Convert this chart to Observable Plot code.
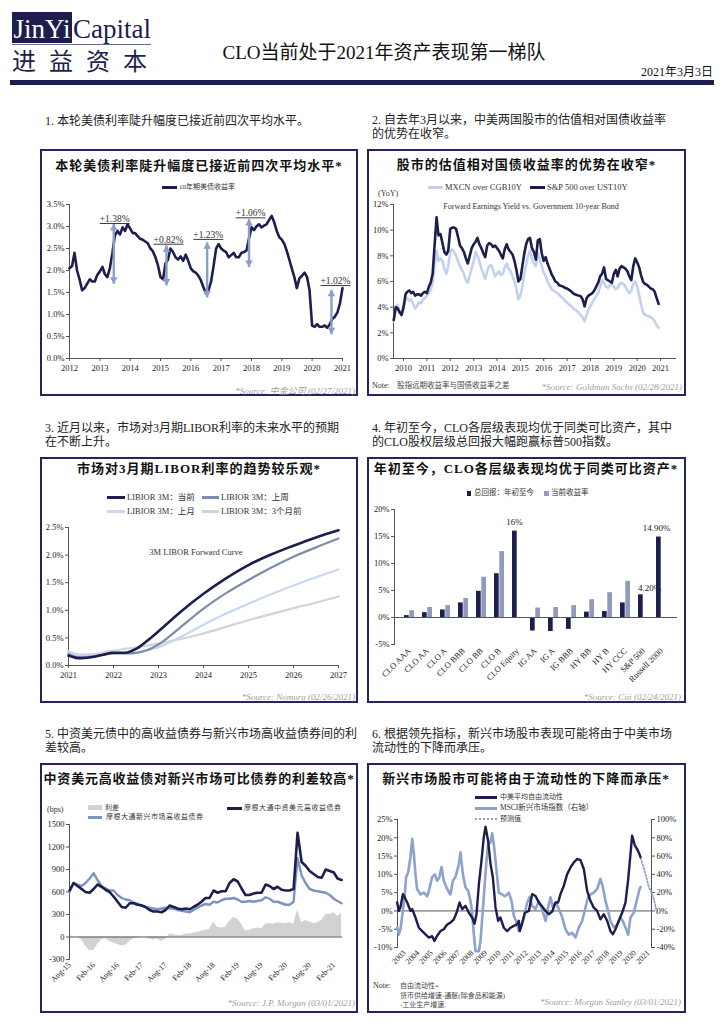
<!DOCTYPE html>
<html><head><meta charset="utf-8">
<script src="https://cdn.jsdelivr.net/npm/d3@7"></script>
<script src="https://cdn.jsdelivr.net/npm/@observablehq/plot@0.6"></script>
<style>
html,body{margin:0;padding:0;background:#fff;}
body{width:724px;height:1024px;position:relative;overflow:hidden;font-family:'Liberation Serif','Noto Sans CJK SC',serif;color:#222;}
.t{position:absolute;white-space:nowrap;line-height:1;}
.panel{position:absolute;}
.panel svg{position:absolute;left:0;top:0;overflow:visible;}
.frame{position:absolute;left:0;top:0;right:0;bottom:0;border:2px solid #23265a;box-sizing:border-box;pointer-events:none;}
.sw{position:absolute;}
</style></head><body>
<script>
// ---------------- DATA ----------------
// Panel 1: 10Y UST yield (%), monthly from Jan 2012
const yield10 = [2.05,2.1,2.4,2.0,1.8,1.55,1.6,1.7,1.8,1.75,1.75,1.9,
1.98,2.08,1.92,1.85,2.05,2.4,2.8,2.9,2.82,2.98,2.9,3.05,
2.95,2.85,2.85,2.78,2.72,2.7,2.66,2.62,2.5,2.44,2.3,2.12,
1.85,1.8,2.15,2.25,2.5,2.42,2.3,2.25,2.32,2.22,2.36,2.22,
2.05,1.98,1.95,1.88,1.78,1.62,1.48,1.55,1.75,2.1,2.5,2.6,
2.5,2.45,2.42,2.3,2.35,2.4,2.3,2.3,2.4,2.42,2.45,2.72,
2.98,2.92,3.0,3.05,2.98,3.02,3.05,3.15,3.24,3.1,2.9,2.76,
2.7,2.6,2.45,2.25,2.05,1.85,1.6,1.82,1.88,1.95,1.85,1.55,
0.75,0.72,0.78,0.72,0.72,0.75,0.7,0.78,0.9,0.95,1.05,1.25,1.6];
const arrowDates = ["2013-06-17","2015-03-14","2016-07-16","2017-12-02","2020-08-21"];
const arrowLo = [1.70,1.66,1.39,2.08,0.55];
const arrowHi = [3.06,2.57,2.64,3.17,1.56];
const arrowLabels = ["+1.38%","+0.82%","+1.23%","+1.06%","+1.02%"];
const labelDates = ["2013-06-28","2015-04-08","2016-07-30","2017-12-20","2020-10-08"];
const labelY = [3.17,2.70,2.81,3.30,1.76];
const p1YTicks = [0,0.5,1,1.5,2,2.5,3,3.5];
const p1XTicks = [2012,2013,2014,2015,2016,2017,2018,2019,2020,2021];

// Panel 2: forward earnings yield minus 10Y govt yield (%), monthly from Aug 2009
const spx = [3.0,4.0,3.9,3.6,3.4,4.0,5.0,5.2,5.3,5.1,5.2,4.9,
5.0,5.0,4.9,5.1,5.2,5.1,5.6,5.9,6.6,8.8,11.0,9.6,
9.7,9.0,8.3,8.1,8.4,10.1,10.2,10.2,10.1,9.5,8.8,8.6,
8.3,7.8,7.4,8.0,8.6,8.9,9.1,9.4,8.9,8.6,8.2,7.9,
8.8,9.0,8.9,8.7,8.8,8.6,8.4,8.1,7.8,8.5,8.9,8.5,
8.3,8.1,7.6,6.9,6.0,6.2,7.2,8.1,8.9,9.3,9.4,8.6,
8.3,7.7,9.2,9.3,8.2,7.6,7.9,7.4,7.0,6.6,6.3,6.0,
5.9,5.7,5.65,5.6,5.5,5.45,5.35,5.25,5.1,5.0,4.95,4.9,
4.85,4.6,4.05,4.7,4.9,5.0,5.1,5.3,5.6,5.9,6.4,6.6,
7.1,6.2,6.1,6.0,5.9,6.6,6.9,6.4,7.0,7.2,7.1,7.0,
6.8,6.4,6.1,7.2,7.8,7.5,7.1,6.5,6.0,5.8,5.75,5.6,
5.45,5.4,5.2,4.7,4.25];
const mxcn = [2.9,4.0,4.2,3.6,3.4,4.0,4.6,4.7,4.5,4.6,4.2,3.9,
4.1,4.4,4.3,4.6,4.7,4.9,5.1,5.3,5.9,7.2,8.4,7.6,
7.8,7.6,7.0,6.6,7.2,8.3,8.5,8.3,8.0,7.6,7.2,6.9,
6.6,6.1,5.9,6.5,7.0,7.6,8.3,8.0,7.6,7.0,6.6,6.2,
6.8,7.2,7.3,6.9,6.4,6.6,6.8,6.5,6.6,7.1,7.4,7.0,
6.8,6.4,6.0,5.4,4.6,4.9,5.6,6.6,7.3,8.0,8.4,7.8,
7.4,7.2,8.2,7.7,7.2,6.7,6.4,6.0,5.7,5.4,5.3,5.2,
5.1,4.95,4.8,4.65,4.5,4.35,4.2,4.1,3.95,3.8,3.7,3.55,
3.4,3.2,2.9,3.4,3.8,4.1,4.4,4.6,4.9,5.1,5.6,6.1,
5.9,5.6,5.5,5.7,5.8,5.6,5.4,5.5,5.8,5.9,5.8,5.6,
5.3,5.1,5.3,5.8,6.0,5.6,4.9,4.2,3.6,3.4,3.35,3.3,
3.2,3.1,2.9,2.6,2.4];
const p2YTicks = [0,2,4,6,8,10,12];
const p2XTicks = [2010,2011,2012,2013,2014,2015,2016,2017,2018,2019,2020,2021];

// Panel 3: 3M LIBOR forward curves (%)
const libT = [2021,2021.25,2021.5,2021.75,2022,2022.25,2022.5,2022.75,2023,2023.5,2024,2024.5,2025,2025.5,2026,2026.5,2027];
const libCur = [0.18,0.13,0.15,0.19,0.23,0.23,0.30,0.45,0.62,0.98,1.30,1.58,1.82,2.01,2.17,2.32,2.45];
const libWk  = [0.21,0.15,0.16,0.19,0.22,0.22,0.23,0.28,0.38,0.70,1.03,1.31,1.55,1.77,1.97,2.14,2.30];
const libMo  = [0.24,0.19,0.18,0.20,0.22,0.22,0.23,0.27,0.33,0.52,0.74,0.94,1.12,1.29,1.45,1.60,1.74];
const lib3m  = [0.26,0.20,0.20,0.23,0.27,0.30,0.33,0.36,0.40,0.48,0.58,0.70,0.82,0.93,1.04,1.14,1.25];
const p3YTicks = [0,0.5,1,1.5,2,2.5];
const p3XTicks = [2021,2022,2023,2024,2025,2026,2027];

// Panel 4: YTD total return and current yield (%)
const cats = ["CLO AAA","CLO AA","CLO A","CLO BBB","CLO BB","CLO B","CLO Equity","IG AA","IG A","IG BBB","HY BB","HY B","HY CCC","S&P 500","Russell 2000"];
const ytd = [0.35,0.9,1.4,2.7,4.85,8.1,16.0,-2.5,-2.6,-2.2,1.0,1.1,2.7,4.2,14.9];
const yld = [1.25,1.85,2.2,3.5,7.45,12.2,null,1.75,1.85,2.2,3.3,4.6,6.7,null,null];
const barLabelCats = ["CLO Equity","S&P 500","Russell 2000"];
const barLabelVals = [16.0,4.2,14.9];
const barLabelText = ["16%","4.20%","14.90%"];
const p4YTicks = [-5,0,5,10,15,20];

// Panel 5: spreads (bps), monthly from Aug 2015
const cnhy = [620,720,680,640,600,590,640,700,670,630,600,540,470,400,390,450,450,430,420,400,360,340,340,330,360,420,400,380,370,380,370,400,430,470,520,520,620,590,610,610,720,770,740,650,560,560,580,590,590,700,680,640,670,630,620,620,640,1390,1000,950,880,840,800,790,900,880,860,780,760];
const emhy = [600,720,700,680,720,780,850,760,680,650,620,620,560,520,500,490,460,440,420,400,390,380,370,380,390,380,380,360,350,340,330,360,390,420,440,430,470,460,490,510,510,520,500,470,470,480,470,480,490,530,510,470,470,450,430,430,470,1050,820,720,640,620,610,600,590,560,510,480,450];
const spread = [20,0,0,-40,-120,-180,-180,-100,-40,-20,-60,-80,-100,-120,-110,-60,-20,-10,0,0,-30,-40,-30,-60,-30,40,30,20,20,40,40,50,60,80,90,100,200,130,120,130,210,260,240,170,80,90,110,120,110,170,180,170,190,180,180,190,170,360,190,220,200,180,190,220,300,300,320,280,310];
const p5YTicks = [-300,0,300,600,900,1200,1500];
const p5XTicks = ["2015-08","2016-02","2016-08","2017-02","2017-08","2018-02","2018-08","2019-02","2019-08","2020-02","2020-08","2021-02"];

// Panel 6: free liquidity (%, left) and MSCI EM YoY (%, right)
const liqT = [2002.46,2002.58,2002.70,2002.88,2003.02,2003.20,2003.44,2003.57,2003.81,2004.06,2004.30,2004.55,2004.80,2005.04,2005.21,2005.41,2005.66,2005.90,2006.15,2006.39,2006.64,2006.89,2007.06,2007.26,2007.50,2007.75,2007.99,2008.17,2008.31,2008.49,2008.68,2008.85,2008.98,2009.17,2009.35,2009.52,2009.72,2009.91,2010.08,2010.33,2010.58,2010.82,2011.07,2011.31,2011.44,2011.51,2011.68,2011.88,2012.18,2012.42,2012.67,2012.91,2013.16,2013.41,2013.65,2013.90,2014.14,2014.34,2014.51,2014.76,2015.00,2015.25,2015.50,2015.74,2015.99,2016.24,2016.48,2016.73,2016.97,2017.22,2017.46,2017.71,2017.96,2018.20,2018.38,2018.57,2018.82,2019.06,2019.31,2019.51,2019.68,2019.80,2020.00,2020.17,2020.29,2020.42];
const liqV = [2.3,0,1,4.6,3.7,2.3,0,0.5,-1.8,-4.6,-5.5,-6.4,-7.3,-6.9,-8.2,-6.8,-5.5,-5,-3.7,-3.2,-2.3,0,2.3,0.5,1.4,-0.5,-1.8,-3.5,-1,7.3,13.7,20.1,23,19.2,12.8,9.2,0.9,-2.7,-1.8,-4.6,-5.5,-4.6,-4.1,-3.7,-2.7,-5.5,-3.5,-0.5,0,4.6,4.1,2.3,1.2,0,-0.9,-0.2,2.3,2.3,4.6,6.9,10,11.9,13.3,14.2,13.9,11.4,5.5,2.7,0.9,0,-2.3,-0.9,-2.7,-5.5,-6.4,-5,-2.7,-0.5,2.3,8.7,15.6,20.6,17.9,16.9,16,14.7];
const msciT = [2002.46,2002.58,2002.70,2002.88,2003.02,2003.12,2003.27,2003.44,2003.57,2003.69,2003.81,2003.93,2004.18,2004.43,2004.67,2004.80,2005.04,2005.24,2005.41,2005.58,2005.73,2005.90,2006.15,2006.39,2006.57,2006.76,2007.01,2007.13,2007.31,2007.50,2007.70,2007.87,2007.99,2008.12,2008.24,2008.49,2008.61,2008.73,2008.85,2009.03,2009.17,2009.35,2009.47,2009.59,2009.72,2009.84,2009.96,2010.21,2010.40,2010.58,2010.70,2010.90,2011.07,2011.24,2011.44,2011.63,2011.81,2012.05,2012.23,2012.42,2012.67,2012.91,2013.16,2013.41,2013.60,2013.78,2013.95,2014.14,2014.34,2014.64,2014.88,2015.13,2015.37,2015.62,2015.87,2016.11,2016.36,2016.55,2016.73,2016.97,2017.22,2017.46,2017.64,2017.83,2018.03,2018.20,2018.45,2018.69,2018.94,2019.11,2019.31,2019.51,2019.68,2019.93,2020.10,2020.25,2020.34,2020.42];
const msciV = [-18,-26,-20,0,18,37,42,59,79,62,40,24,18,20,16,22,37,40,33,37,48,33,24,18,33,37,51,64,40,26,22,11,-2,-26,-44,-44,-33,-9,15,51,73,75,85,73,55,37,20,18,16,18,20,11,-5.5,-11,-22,-15,-7,9,15,5.5,2,11,2,-11,4,15,4,9,4,-7,-20,-26,-24,-29,-18,-11,4,15,18,20,24,35,26,11,0,-11,-18,-15,-7,-11,-18,-26,-7,-2,9,18,24,26];
const fcT = [2020.42,2020.55,2020.66,2020.79,2020.91,2021.03,2021.16,2021.28,2021.40,2021.52,2021.65];
const fcV = [58,52,47,40,33,26,22,18,13,5.5,-4];
const p6YTicks = [-10,-5,0,5,10,15,20,25];
const p6XTicks = [2003,2004,2005,2006,2007,2008,2009,2010,2011,2012,2013,2014,2015,2016,2017,2018,2019,2020,2021];

// ---------------- STYLE ----------------
const NAVY = "#1d1e4e", AX = "#555", ARW = "#8c9ec6", LIGHT = "#c2d2ee";
const GRAYBLUE = "#7d8daa", LIGHTBLUE = "#c9d7ef", LGRAY = "#d4d4d4";
const BAR2 = "#8e9bbd", BLUE5 = "#7d93c2", BLUE6 = "#8da2cd", SPREADC = "#d2d2d2";
const SERIF = "'Liberation Serif','Noto Sans CJK SC',serif";
const CJK = "'Noto Sans CJK SC',sans-serif";

function T(x, y, s, o = {}) {
  const d = document.createElement("div");
  d.className = "t";
  d.innerHTML = s;
  const st = d.style;
  st.left = x + "px"; st.top = y + "px";
  st.fontSize = (o.size || 9) + "px";
  if (o.color) st.color = o.color;
  if (o.weight) st.fontWeight = o.weight;
  if (o.italic) st.fontStyle = "italic";
  if (o.family) st.fontFamily = o.family;
  if (o.ls != null) st.letterSpacing = o.ls + "px";
  const ax = o.anchor === "middle" ? "-50%" : o.anchor === "end" ? "-100%" : "0";
  st.transform = `translate(${ax},-50%)`;
  document.body.appendChild(d);
  return d;
}
function box(x, y, w, h, css) {
  const d = document.createElement("div");
  d.className = "sw";
  Object.assign(d.style, {left: x + "px", top: y + "px", width: w + "px", height: h + "px"}, css);
  document.body.appendChild(d);
  return d;
}
function lineSw(x1, x2, y, color, h = 3) { return box(x1, y - h / 2, x2 - x1, h, {background: color}); }
function mount(P, opts, post) {
  const c = document.createElement("div");
  c.className = "panel";
  Object.assign(c.style, {left: P.L + "px", top: P.T + "px", width: P.W + "px", height: P.H + "px"});
  const svg = Plot.plot({
    width: P.W, height: P.H, ...opts,
    style: {fontFamily: SERIF, fontSize: "8.5px", color: "#222", background: "none", overflow: "visible"}
  });
  if (post) post(svg);
  c.appendChild(svg);
  const f = document.createElement("div"); f.className = "frame"; c.appendChild(f);
  document.body.appendChild(c);
}
const utcY = y => new Date(Date.UTC(y, 0, 1));

// ---------------- HEADER ----------------
box(12, 12, 60, 31, {background: NAVY});
T(42, 29, "JinYi", {size: 27, color: "#fff", anchor: "middle", family: "'Liberation Serif',serif"});
T(73, 29, "Capital", {size: 27, color: NAVY, family: "'Liberation Serif',serif"});
box(12, 44, 139, 1, {background: "#6a6d92"});
T(12, 60, "进益资本", {size: 24, color: NAVY, family: CJK, ls: 13});
T(384, 52, "CLO当前处于2021年资产表现第一梯队", {size: 19, anchor: "middle", color: "#111"});
T(713, 72, "2021年3月3日", {size: 12, anchor: "end", color: "#111"});
box(10, 80, 704, 5, {background: NAVY});

// ---------------- CAPTIONS ----------------
const capO = {size: 12, color: "#222"};
T(45, 121, "1. 本轮美债利率陡升幅度已接近前四次平均水平。", capO);
T(372, 120, "2. 自去年3月以来，中美两国股市的估值相对国债收益率", capO);
T(372, 134, "的优势在收窄。", capO);
T(45, 428, "3. 近月以来，市场对3月期LIBOR利率的未来水平的预期", capO);
T(45, 442, "在不断上升。", capO);
T(372, 428, "4. 年初至今，CLO各层级表现均优于同类可比资产，其中", capO);
T(372, 442, "的CLO股权层级总回报大幅跑赢标普500指数。", capO);
T(45, 734, "5. 中资美元债中的高收益债券与新兴市场高收益债券间的利", capO);
T(45, 748, "差较高。", capO);
T(372, 734, "6. 根据领先指标，新兴市场股市表现可能将由于中美市场", capO);
T(372, 748, "流动性的下降而承压。", capO);

// ---------------- PANEL 1 ----------------
const p1Start = utcY(2012);
const d1 = yield10.map((v, i) => ({date: d3.utcMonth.offset(p1Start, i), v}));
const arrows = arrowDates.map((d, i) => ({date: new Date(d), lo: arrowLo[i], hi: arrowHi[i], ld: new Date(labelDates[i]), ly: labelY[i], label: arrowLabels[i]}));
mount({L: 40, T: 149, W: 318, H: 247}, {
  marginLeft: 29, marginRight: 16, marginTop: 55, marginBottom: 38,
  x: {type: "utc", domain: [p1Start, utcY(2021)]},
  y: {domain: [0, 3.5]},
  marks: [
    Plot.frame({anchor: "left", stroke: AX}),
    Plot.frame({anchor: "bottom", stroke: AX}),
    Plot.axisY({ticks: p1YTicks, tickFormat: d => d.toFixed(1) + "%", tickSize: 3, tickPadding: 2, label: null, stroke: AX}),
    Plot.axisX({ticks: p1XTicks.map(utcY), tickFormat: d3.utcFormat("%Y"), tickSize: 3, tickPadding: 3, label: null, stroke: AX}),
    Plot.line(d1, {x: "date", y: "v", stroke: NAVY, strokeWidth: 2.6}),
    Plot.link(arrows, {x1: "date", x2: "date", y1: "lo", y2: "hi", stroke: ARW, strokeWidth: 2.4}),
    Plot.dot(arrows, {x: "date", y: "hi", symbol: "triangle", r: 2.8, fill: ARW, dy: 4.3}),
    Plot.dot(arrows, {x: "date", y: "lo", symbol: "triangle", r: 2.8, fill: ARW, rotate: 180, dy: -4.3}),
    Plot.text(arrows, {x: "ld", y: "ly", text: "label", fontSize: 9.5, fill: "#333"})
  ]
}, svg => {
  svg.querySelectorAll("text").forEach(t => { if (t.textContent.startsWith("+")) t.style.textDecoration = "underline"; });
});
T(199, 165, "本轮美债利率陡升幅度已接近前四次平均水平*", {size: 13, weight: 700, anchor: "middle", ls: 1, color: "#111"});
lineSw(162, 177, 187, NAVY, 3);
T(179, 187, "10年期美债收益率", {size: 7, color: "#333"});
T(355, 391, "*Source: 中金公司 (02/27/2021)", {size: 9, italic: true, anchor: "end", color: "#a0a0a0"});

// ---------------- PANEL 2 ----------------
const p2Start = new Date(Date.UTC(2009, 7, 1));
const d2 = spx.map((v, i) => ({date: d3.utcMonth.offset(p2Start, i), spx: v, mx: mxcn[i]}));
mount({L: 367, T: 149, W: 319, H: 247}, {
  marginLeft: 26, marginRight: 11, marginTop: 55, marginBottom: 38,
  x: {type: "utc", domain: [new Date(Date.UTC(2009, 6, 28)), new Date(Date.UTC(2021, 7, 22))]},
  y: {domain: [0, 12]},
  marks: [
    Plot.frame({anchor: "left", stroke: AX}),
    Plot.frame({anchor: "bottom", stroke: AX}),
    Plot.axisY({ticks: p2YTicks, tickFormat: d => d + "%", tickSize: 3, tickPadding: 2, label: null, stroke: AX}),
    Plot.axisX({ticks: p2XTicks.map(utcY), tickFormat: d3.utcFormat("%Y"), tickSize: 3, tickPadding: 3, label: null, stroke: AX}),
    Plot.line(d2, {x: "date", y: "mx", stroke: LIGHT, strokeWidth: 2.6}),
    Plot.line(d2, {x: "date", y: "spx", stroke: NAVY, strokeWidth: 2.6})
  ]
});
T(526.5, 163.5, "股市的估值相对国债收益率的优势在收窄*", {size: 13, weight: 700, anchor: "middle", ls: 1, color: "#111"});
lineSw(428, 443, 187, LIGHT, 3);
T(445, 187, "MXCN over CGB10Y", {size: 8.5, color: "#333"});
lineSw(530, 545, 187, NAVY, 3);
T(547, 187, "S&amp;P 500 over UST10Y", {size: 8.5, color: "#333"});
T(378, 194, "(YoY)", {size: 8, color: "#333"});
T(531, 207, "Forward Earnings Yield vs. Government 10-year Bond", {size: 8, anchor: "middle", color: "#333"});
T(372, 386, "Note:", {size: 8, color: "#333"});
T(397, 386, "股指远期收益率与国债收益率之差", {size: 7.5, color: "#444"});
T(682, 387, "*Source: Goldman Sachs (02/28/2021)", {size: 9, italic: true, anchor: "end", color: "#a0a0a0"});

// ---------------- PANEL 3 ----------------
const d3c = libT.map((t, i) => ({t, cur: libCur[i], wk: libWk[i], mo: libMo[i], m3: lib3m[i]}));
mount({L: 40, T: 457, W: 318, H: 246}, {
  marginLeft: 28, marginRight: 20, marginTop: 70, marginBottom: 38,
  x: {domain: [2021, 2027]},
  y: {domain: [0, 2.5]},
  marks: [
    Plot.frame({anchor: "left", stroke: AX}),
    Plot.frame({anchor: "bottom", stroke: AX}),
    Plot.axisY({ticks: p3YTicks, tickFormat: d => d.toFixed(1) + "%", tickSize: 3, tickPadding: 2, label: null, stroke: AX}),
    Plot.axisX({ticks: p3XTicks, tickFormat: d => String(d), tickSize: 3, tickPadding: 3, label: null, stroke: AX}),
    Plot.line(d3c, {x: "t", y: "m3", stroke: LGRAY, strokeWidth: 2.2, curve: "monotone-x"}),
    Plot.line(d3c, {x: "t", y: "mo", stroke: LIGHTBLUE, strokeWidth: 2.2, curve: "monotone-x"}),
    Plot.line(d3c, {x: "t", y: "wk", stroke: GRAYBLUE, strokeWidth: 2.2, curve: "monotone-x"}),
    Plot.line(d3c, {x: "t", y: "cur", stroke: NAVY, strokeWidth: 2.6, curve: "monotone-x"})
  ]
});
T(199, 468, "市场对3月期LIBOR利率的趋势较乐观*", {size: 13, weight: 700, anchor: "middle", ls: 1, color: "#111"});
lineSw(107, 125, 497, NAVY, 3);
T(127, 497, "LIBIOR 3M：当前", {size: 8.5, color: "#333"});
lineSw(202, 219, 497, GRAYBLUE, 3);
T(221, 497, "LIBIOR 3M：上周", {size: 8.5, color: "#333"});
lineSw(107, 125, 511, LIGHTBLUE, 3);
T(127, 511, "LIBIOR 3M：上月", {size: 8.5, color: "#333"});
lineSw(202, 219, 511, LGRAY, 3);
T(221, 511, "LIBIOR 3M：3个月前", {size: 8.5, color: "#333"});
T(196, 552, "3M LIBOR Forward Curve", {size: 8.5, anchor: "middle", color: "#333"});
T(355, 697, "*Source: Nomura (02/26/2021)", {size: 9, italic: true, anchor: "end", color: "#a0a0a0"});

// ---------------- PANEL 4 ----------------
const d4a = cats.map((c, i) => ({cat: c, v: ytd[i]}));
const d4b = cats.map((c, i) => ({cat: c, v: yld[i]})).filter(d => d.v != null);
const d4l = barLabelCats.map((c, i) => ({cat: c, v: barLabelVals[i], label: barLabelText[i]}));
mount({L: 367, T: 457, W: 319, H: 246}, {
  marginLeft: 27, marginRight: 9, marginTop: 52, marginBottom: 59,
  x: {domain: cats, paddingInner: 0.44, paddingOuter: 0.22},
  y: {domain: [-5, 20]},
  marks: [
    Plot.frame({anchor: "left", stroke: AX}),
    Plot.axisY({ticks: p4YTicks, tickFormat: d => d + "%", tickSize: 3, tickPadding: 2, label: null, stroke: AX}),
    Plot.axisX({tickRotate: -45, tickSize: 0, tickPadding: 5, label: null, fontSize: 8.5}),
    Plot.barY(d4a, {x: "cat", y: "v", fill: NAVY, insetRight: 5.3}),
    Plot.barY(d4b, {x: "cat", y: "v", fill: BAR2, insetLeft: 5.3}),
    Plot.ruleY([0], {stroke: AX}),
    Plot.text(d4l, {x: "cat", y: "v", text: "label", dy: -9, dx: -3, fontSize: 9, fill: "#222",
      filter: d => d.cat === "CLO Equity"}),
    Plot.text(d4l, {x: "cat", y: "v", text: "label", dy: -7, dx: 6, fontSize: 9, fill: "#222",
      filter: d => d.cat === "S&P 500"}),
    Plot.text(d4l, {x: "cat", y: "v", text: "label", dy: -9, dx: -5, fontSize: 9, fill: "#222",
      filter: d => d.cat === "Russell 2000"})
  ]
});
T(526, 468, "年初至今，CLO各层级表现均优于同类可比资产*", {size: 13, weight: 700, anchor: "middle", ls: 1, color: "#111"});
box(466.5, 491, 4.5, 4.5, {background: NAVY});
T(474, 493, "总回报：年初至今", {size: 7.5, color: "#333"});
box(544, 491, 4.5, 4.5, {background: BAR2});
T(551, 493, "当前收益率", {size: 7.5, color: "#333"});
T(681, 697, "*Source: Citi (02/24/2021)", {size: 9, italic: true, anchor: "end", color: "#a0a0a0"});

// ---------------- PANEL 5 ----------------
const p5Start = new Date(Date.UTC(2015, 7, 1));
const d5 = cnhy.map((v, i) => ({date: d3.utcMonth.offset(p5Start, i), cn: v, em: emhy[i], sp: spread[i]}));
mount({L: 40, T: 763, W: 318, H: 250}, {
  marginLeft: 29, marginRight: 16, marginTop: 61, marginBottom: 54,
  x: {type: "utc", domain: [p5Start, new Date(Date.UTC(2021, 3, 8))]},
  y: {domain: [-300, 1500]},
  marks: [
    Plot.areaY(d5, {x: "date", y: "sp", fill: SPREADC}),
    Plot.frame({anchor: "left", stroke: AX}),
    Plot.ruleY([0], {stroke: AX}),
    Plot.axisY({ticks: p5YTicks, tickFormat: d => String(d), tickSize: 3, tickPadding: 2, label: null, stroke: AX}),
    Plot.axisX({ticks: p5XTicks.map(s => new Date(s + "-01T00:00:00Z")), tickFormat: d3.utcFormat("%b-%y"), tickRotate: -45, tickSize: 0, tickPadding: 4, label: null, fontSize: 8}),
    Plot.line(d5, {x: "date", y: "em", stroke: BLUE5, strokeWidth: 2.4}),
    Plot.line(d5, {x: "date", y: "cn", stroke: NAVY, strokeWidth: 2.6})
  ]
});
T(199, 778, "中资美元高收益债对新兴市场可比债券的利差较高*", {size: 13, weight: 700, anchor: "middle", ls: 0.8, color: "#111"});
T(47, 810, "(bps)", {size: 8, color: "#333"});
box(88, 805, 14, 5, {background: SPREADC});
T(105, 808, "利差", {size: 7, color: "#333"});
lineSw(227, 242, 808, NAVY, 3);
T(244, 808, "摩根大通中资美元高收益债券", {size: 7, color: "#333", ls: 0.5});
lineSw(88, 102, 817, BLUE5, 3);
T(106, 817, "摩根大通新兴市场高收益债券", {size: 7, color: "#333", ls: 0.5});
T(355, 1003, "*Source: J.P. Morgan (03/01/2021)", {size: 9, italic: true, anchor: "end", color: "#a0a0a0"});

// ---------------- PANEL 6 ----------------
const d6l = liqT.map((t, i) => ({t, v: liqV[i]}));
const d6m = msciT.map((t, i) => ({t, v: msciV[i]}));
const d6f = fcT.map((t, i) => ({t, v: fcV[i]}));
mount({L: 367, T: 763, W: 319, H: 250}, {
  marginLeft: 30, marginRight: 35, marginTop: 56, marginBottom: 66,
  x: {domain: [2002.483, 2021.23]},
  y: {domain: [-10, 25]},
  marks: [
    Plot.frame({anchor: "left", stroke: AX}),
    Plot.frame({anchor: "right", stroke: AX}),
    Plot.ruleY([0], {stroke: AX}),
    Plot.axisY({ticks: p6YTicks, tickFormat: d => d + "%", tickSize: 3, tickPadding: 2, label: null, stroke: AX}),
    Plot.axisY({anchor: "right", ticks: p6YTicks, tickFormat: d => (d * 4) + "%", tickSize: 3, tickPadding: 2, label: null, stroke: AX}),
    Plot.axisX({ticks: p6XTicks, tickFormat: d => String(d), tickRotate: -45, tickSize: 0, tickPadding: 4, label: null, fontSize: 8}),
    Plot.line(d6m, {x: "t", y: d => d.v / 4, stroke: BLUE6, strokeWidth: 2.6}),
    Plot.line(d6f, {x: "t", y: d => d.v / 4, stroke: BLUE6, strokeWidth: 1.8, strokeDasharray: "1.5,2"}),
    Plot.line(d6l, {x: "t", y: "v", stroke: NAVY, strokeWidth: 2.4})
  ]
});
T(526, 778, "新兴市场股市可能将由于流动性的下降而承压*", {size: 13, weight: 700, anchor: "middle", ls: 1, color: "#111"});
lineSw(475, 497, 797, NAVY, 3);
T(500, 797, "中美平均自由流动性", {size: 7, color: "#333"});
lineSw(475, 497, 808, BLUE6, 3);
T(500, 808, "MSCI新兴市场指数（右轴）", {size: 7.5, color: "#333"});
box(475, 818, 22, 0, {borderTop: "2px dotted " + BLUE6});
T(500, 819, "预测值", {size: 7, color: "#333"});
T(373, 986, "Note:", {size: 8, color: "#333"});
T(400, 986, "自由流动性=", {size: 7, color: "#444"});
T(400, 995.5, "货币供给增速-通胀(除食品和能源)", {size: 7, color: "#444"});
T(400, 1005, "-工业生产增速.", {size: 7, color: "#444"});
T(681, 1002, "*Source: Morgan Stanley (03/01/2021)", {size: 9, italic: true, anchor: "end", color: "#a0a0a0"});
</script>
</body></html>
